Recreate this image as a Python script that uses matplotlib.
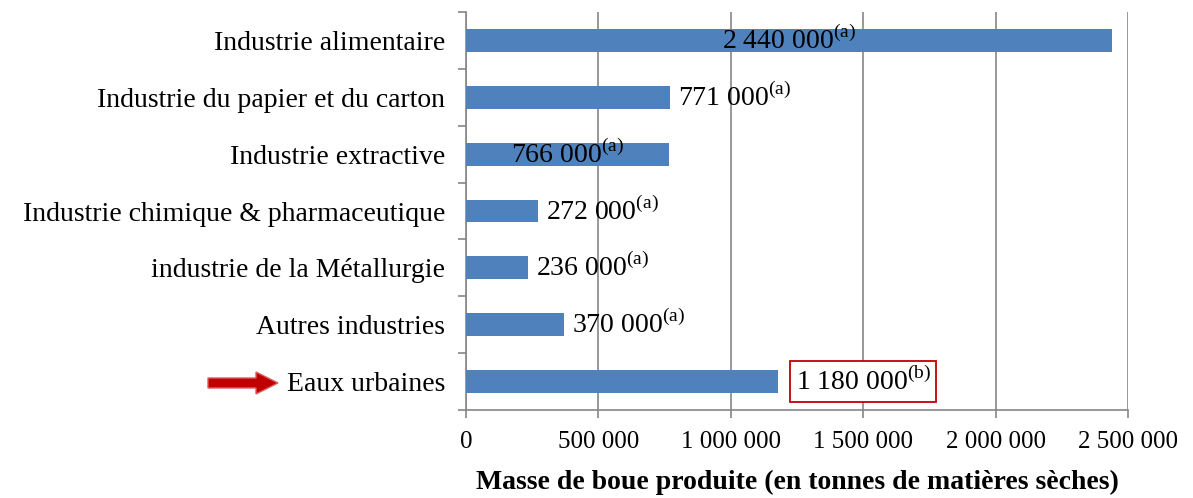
import matplotlib.pyplot as plt
import numpy as np
from matplotlib.patches import FancyArrow

plt.rcParams['font.family'] = ['Liberation Serif', 'DejaVu Serif']
plt.rcParams['mathtext.fontset'] = 'custom'
plt.rcParams['mathtext.rm'] = 'Liberation Serif'

# data, top to bottom
categories = ['Industrie alimentaire', 'Industrie du papier et du carton',
              'Industrie extractive', 'Industrie chimique & pharmaceutique',
              'industrie de la Métallurgie', 'Autres industries', 'Eaux urbaines']
masses = [2440000, 771000, 766000, 272000, 236000, 370000, 1180000]
value_labels = ['2 440 000', '771 000', '766 000', '272 000', '236 000', '370 000', '1 180 000']
notes = ['a', 'a', 'a', 'a', 'a', 'a', 'b']
xticks = [0, 500000, 1000000, 1500000, 2000000, 2500000]
xtick_labels = ['0', '500 000', '1 000 000', '1 500 000', '2 000 000', '2 500 000']

fig = plt.figure(figsize=(11.93, 4.98), dpi=100)
ax = fig.add_axes([466/1193, 1-410/498, (1128-466)/1193, (410-12)/498])

y = np.arange(len(categories))[::-1]
ax.barh(y, masses, height=0.4, color='#4F81BD', zorder=3)

ax.set_xlim(0, 2500000)
ax.set_ylim(-0.5, len(categories) - 0.5)
ax.set_xticks(xticks)
ax.set_xticklabels(xtick_labels, fontsize=18)
ax.set_yticks(y)
ax.set_yticklabels(categories, fontsize=20)
ax.set_yticks(np.arange(-0.5, len(categories)), minor=True)
ax.tick_params(axis='y', which='major', length=0, pad=15)
ax.tick_params(axis='y', which='minor', length=6, color='#868686', width=1.2)
ax.tick_params(axis='x', length=6, color='#868686', width=1.2, pad=9)
ax.grid(axis='x', color='#868686', linewidth=1.2, zorder=0)
for s in ['top', 'right']:
    ax.spines[s].set_visible(False)
for s in ['left', 'bottom']:
    ax.spines[s].set_color('#868686')
    ax.spines[s].set_linewidth(1.2)

ax.set_xlabel('Masse de boue produite (en tonnes de matières sèches)',
              fontsize=20, fontweight='bold', labelpad=12)

# value labels
for yi, m, lab, n in zip(y, masses, value_labels, notes):
    txt = lab + r'$^{\mathrm{(' + n + ')}}$'
    if m > 2000000:
        ax.text(m / 2, yi, txt, ha='center', va='center', fontsize=20, zorder=4)
    elif lab == '766 000':
        ax.text(m * 0.22, yi, txt, ha='left', va='center', fontsize=20, zorder=4)
    elif n == 'b':
        ax.text(m + 65000, yi, txt, ha='left', va='center', fontsize=20, zorder=4,
                bbox=dict(boxstyle='square,pad=0.2', fc='white', ec='#C00000', lw=1.3))
    else:
        ax.text(m + 30000, yi, txt, ha='left', va='center', fontsize=20, zorder=4)

# red arrow pointing to Eaux urbaines
fig.patches.append(FancyArrow(208/1193, 1-383/498, 48/1193, 0, width=10/498,
                              head_width=22/498, head_length=22/1193,
                              length_includes_head=False, transform=fig.transFigure,
                              fc='#C00000', ec='#D95F5F', lw=1))

fig.savefig('out.png', dpi=100)
